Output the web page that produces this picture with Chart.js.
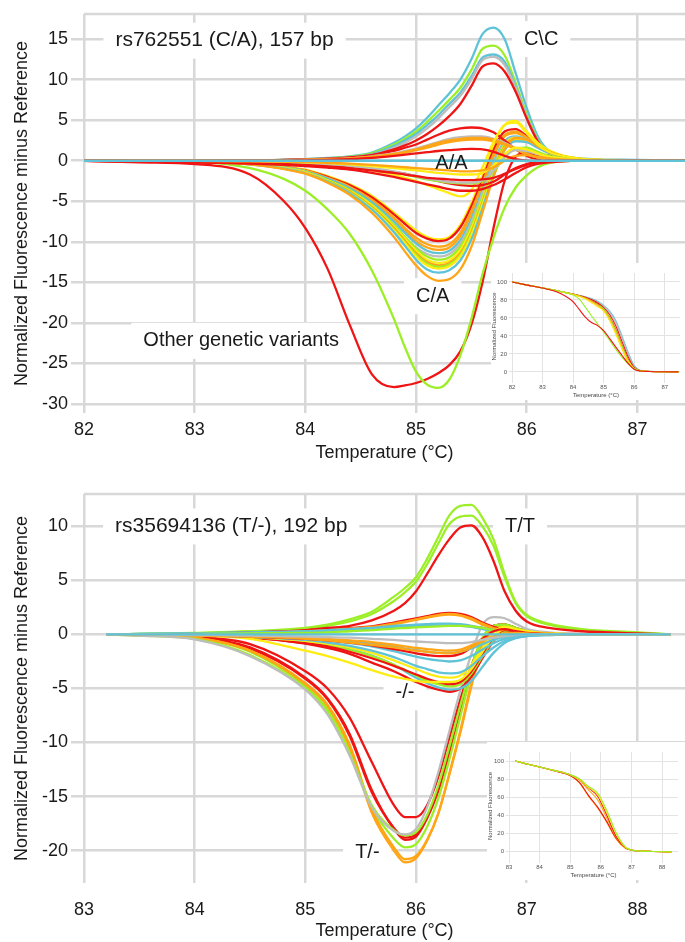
<!DOCTYPE html>
<html>
<head>
<meta charset="utf-8">
<title>HRM difference plots</title>
<script src="https://cdn.jsdelivr.net/npm/chart.js@4.4.1/dist/chart.umd.min.js"></script>
<style>
  body { margin: 0; background: #fff; }
  .panel { position: absolute; left: 0; width: 685px; height: 470px; }
  .inset { position: absolute; background: #fff; }
</style>
</head>
<body>
<div class="panel" style="top:0"><canvas id="diffTop" width="685" height="470"></canvas></div>
<div class="panel" style="top:472px"><canvas id="diffBottom" width="685" height="470"></canvas></div>
<div class="inset" style="left:491px;top:263px;width:194px;height:137px"><canvas id="meltTop" width="194" height="137"></canvas></div>
<div class="inset" style="left:487px;top:742px;width:198px;height:138px"><canvas id="meltBottom" width="198" height="138"></canvas></div>
<script>
// ---------- colours ----------
const CYAN = '#5fc3d7', GREEN = '#9cef26', RED = '#ef1515', GRAY = '#bdbdbd', ORANGE = '#ffa516', YELLOW = '#ffec12';
const GRID = '#d8d8d8';

// ---------- top panel: rs762551 (C/A) ----------
const tempTop = [82.0, 82.5, 83.0, 83.5, 83.8, 84.0, 84.2, 84.4, 84.6, 84.8, 84.9, 85.0, 85.1, 85.2, 85.3, 85.4, 85.5, 85.6, 85.7, 85.8, 85.9, 86.0, 86.1, 86.2, 86.4, 86.6, 87.0, 87.45];
const xTicksTop = [82, 83, 84, 85, 86, 87];
const yTicksTop = [15, 10, 5, 0, -5, -10, -15, -20, -25, -30];

// C\C homozygotes
const ccCyan1 = [0,0,0,0.05,0.1, 0.2,0.35,0.55,1.0,2.2, 3.0,4.0,5.3,6.8,8.3, 10.0,12.5,15.6,16.4,15.0, 10.8,6.5,3.0,1.2,0.4, 0.2,0.1,0];
const ccGreen = [0,0,0,0.05,0.1, 0.2,0.3,0.5,0.9,2.0, 2.7,3.6,4.8,6.1,7.5, 9.0,11.2,13.8,14.2,13.0, 9.6,5.7,2.6,1.0,0.3, 0.1,0.05,0];
const ccCyan2 = [0,0,0,0.05,0.1, 0.2,0.3,0.45,0.8,1.8, 2.5,3.3,4.4,5.6,7.0, 8.4,10.4,12.7,13.1,12.2, 9.2,5.4,2.5,1.0,0.3, 0.1,0.05,0];
const ccGray = [0,0,0,0.05,0.1, 0.15,0.25,0.4,0.7,1.6, 2.2,3.0,4.0,5.2,6.6, 8.0,10.0,12.4,12.8,11.8, 9.0,5.3,2.4,0.9,0.3, 0.1,0,0];
const ccRed = [0,0,0,0,0.05, 0.1,0.2,0.35,0.7,1.4, 1.9,2.5,3.3,4.3,5.5, 7.0,9.2,11.6,12.0,11.0, 8.5,5.2,2.4,0.9,0.2, 0.1,0,0];

// A/A homozygotes (around zero)
const aaRed1 = [0,0,0,0,0.1, 0.15,0.25,0.4,0.7,1.2, 1.6,2.0,2.6,3.2,3.7, 4.0,4.1,4.0,3.5,2.5, 1.4,0.6,0.2,0.1,0, 0,0,0];
const aaGray1 = [0,0,0,0,0.05, 0.1,0.2,0.3,0.55,0.9, 1.2,1.5,1.9,2.3,2.7, 2.9,3.0,3.0,2.7,2.2, 1.5,0.8,0.4,0.2,0.05, 0,0,0];
const aaOrange1 = [0,0,0,0,0.05, 0.1,0.2,0.3,0.5,0.85, 1.1,1.4,1.8,2.2,2.5, 2.7,2.8,2.8,2.6,2.1, 1.5,0.9,0.4,0.2,0.05, 0,0,0];
const aaOrange2 = [0,0,0,0,0.05, 0.1,0.15,0.25,0.45,0.75, 1.0,1.3,1.6,2.0,2.3, 2.5,2.6,2.6,2.4,2.0, 1.4,0.8,0.4,0.2,0, 0,0,0];
const aaRed2 = [0,0,0,0,0, 0.05,0.1,0.2,0.35,0.6, 0.75,0.9,1.05,1.2,1.3, 1.4,1.45,1.4,1.1,0.6, 0.2,0,-0.1,0,0, 0,0,0];
const refTop = [0,0,0,0,0, 0,0,0,0,0, 0,0,0,0,0, 0,0,0,0,0, 0,0,0,0,0, 0,0,0];
const aaOrange3 = [0,0,0,-0.05,-0.1, -0.15,-0.25,-0.35,-0.5,-0.7, -0.8,-0.9,-1.0,-1.1,-1.2, -1.3,-1.3,-1.2,-0.8,0, 0.6,0.7,0.5,0.3,0.1, 0,0,0];
const aaYellow1 = [0,0,0,-0.05,-0.1, -0.2,-0.3,-0.45,-0.65,-0.9, -1.05,-1.2,-1.35,-1.5,-1.6, -1.7,-1.7,-1.5,-0.6,0.8, 1.6,1.4,0.9,0.5,0.2, 0.1,0,0];
const aaRed3 = [0,-0.1,-0.2,-0.3,-0.4, -0.5,-0.7,-0.9,-1.2,-1.5, -1.7,-1.9,-2.1,-2.2,-2.3, -2.4,-2.4,-2.3,-2.1,-1.6, -1.0,-0.5,-0.2,-0.1,0, 0,0,0];
const aaGray2 = [0,0,0,-0.1,-0.2, -0.3,-0.45,-0.65,-0.9,-1.3, -1.6,-1.9,-2.2,-2.4,-2.6, -2.7,-2.7,-2.4,-1.2,0.5, 1.3,1.2,0.8,0.4,0.1, 0,0,0];
const aaGreen = [0,0,0,-0.1,-0.2, -0.3,-0.45,-0.7,-1.0,-1.4, -1.7,-2.0,-2.3,-2.5,-2.7, -2.8,-2.8,-2.5,-1.3,0.4, 1.5,1.6,1.1,0.6,0.2, 0.05,0,0];
const aaRed4 = [0,-0.1,-0.2,-0.35,-0.5, -0.65,-0.85,-1.1,-1.5,-2.0, -2.3,-2.6,-2.9,-3.2,-3.5, -3.7,-3.7,-3.5,-3.0,-2.3, -1.5,-0.8,-0.4,-0.2,0, 0,0,0];
const aaRed5 = [0,-0.05,-0.1,-0.2,-0.3, -0.4,-0.55,-0.75,-1.0,-1.4, -1.6,-1.9,-2.2,-2.5,-2.8, -3.0,-3.1,-3.0,-2.6,-1.7, -0.9,-0.4,-0.1,0,0, 0,0,0];
const aaYellow2 = [0,0,0,-0.1,-0.2, -0.3,-0.5,-0.8,-1.2,-1.7, -2.1,-2.5,-3.0,-3.5,-4.0, -4.4,-3.6,-0.8,2.3,4.4, 4.7,3.4,2.0,1.1,0.4, 0.1,0,0];

// C/A heterozygotes
const caYellow1 = [0,0,-0.05,-0.3,-0.7, -1.1,-1.9,-2.9,-4.3,-6.4, -7.5,-8.6,-9.4,-9.7,-9.4, -7.9,-5.2,-1.8,1.9,4.4, 4.9,3.6,2.2,1.3,0.4, 0.15,0.05,0];
const caRed1 = [0,-0.05,-0.1,-0.35,-0.75, -1.2,-2.0,-3.0,-4.5,-6.6, -7.8,-8.9,-9.6,-9.9,-9.6, -8.2,-5.6,-2.3,1.3,3.6, 3.9,3.0,1.9,1.1,0.35, 0.1,0,0];
const caOrange1 = [0,0,-0.05,-0.35,-0.75, -1.2,-2.1,-3.2,-4.8,-7.0, -8.3,-9.5,-10.3,-10.6,-10.3, -8.9,-6.2,-2.8,0.8,3.2, 3.6,2.9,1.9,1.1,0.35, 0.1,0,0];
const caOrange2 = [0,0,-0.05,-0.35,-0.8, -1.3,-2.2,-3.3,-5.0,-7.3, -8.6,-9.9,-10.7,-11.0,-10.7, -9.3,-6.6,-3.1,0.5,3.0, 3.4,2.8,1.8,1.0,0.3, 0.1,0,0];
const caCyan1 = [0,0,-0.05,-0.35,-0.8, -1.3,-2.2,-3.4,-5.1,-7.5, -8.9,-10.2,-11.1,-11.4,-11.1, -9.8,-7.2,-3.7,-0.2,2.4, 3.0,2.6,1.7,1.0,0.3, 0.1,0,0];
const caGray = [0,-0.05,-0.1,-0.45,-0.95, -1.5,-2.5,-3.8,-5.6,-8.0, -9.4,-10.7,-11.5,-11.8,-11.5, -10.2,-7.6,-4.0,-0.4,2.2, 2.9,2.5,1.7,1.0,0.3, 0.1,0,0];
const caGreen1 = [0,0,-0.05,-0.4,-0.85, -1.4,-2.4,-3.6,-5.4,-7.9, -9.4,-10.8,-11.8,-12.2,-11.9, -10.6,-8.0,-4.5,-0.8,2.0, 2.8,2.5,1.7,1.0,0.3, 0.1,0,0];
const caYellow2 = [0,0,-0.05,-0.4,-0.85, -1.4,-2.4,-3.7,-5.5,-8.1, -9.6,-11.1,-12.2,-12.6,-12.3, -11.0,-8.4,-4.8,-1.0,1.9, 2.8,2.5,1.7,1.0,0.3, 0.1,0,0];
const caOrange3 = [0,0,-0.05,-0.4,-0.9, -1.45,-2.5,-3.8,-5.7,-8.3, -9.9,-11.4,-12.5,-12.9,-12.6, -11.4,-8.8,-5.1,-1.2,1.8, 2.7,2.5,1.7,1.0,0.3, 0.1,0,0];
const caGreen2 = [0,0,-0.05,-0.4,-0.9, -1.5,-2.5,-3.9,-5.8,-8.5, -10.1,-11.6,-12.7,-13.1,-12.8, -11.6,-9.0,-5.3,-1.4,1.6, 2.5,2.4,1.7,1.0,0.3, 0.1,0,0];
const caYellow3 = [0,0,-0.05,-0.4,-0.9, -1.5,-2.6,-4.0,-5.9,-8.6, -10.2,-11.8,-12.9,-13.3,-13.0, -11.8,-9.2,-5.5,-1.5,1.5, 2.6,2.4,1.7,1.0,0.3, 0.1,0,0];
const caCyan2 = [0,0,-0.05,-0.45,-0.95, -1.55,-2.6,-4.0,-6.0,-8.8, -10.5,-12.2,-13.4,-13.8,-13.5, -12.3,-9.7,-5.9,-1.8,1.3, 2.4,2.3,1.6,1.0,0.3, 0.1,0,0];
const caOrange4 = [0,-0.05,-0.1,-0.45,-1.0, -1.6,-2.7,-4.2,-6.4,-9.4, -11.2,-12.9,-14.2,-14.8,-14.6, -13.4,-10.6,-6.4,-2.0,1.4, 2.8,2.6,1.8,1.1,0.35, 0.1,0,0];

// other genetic variants
const otherRed = [0,-0.2,-0.4,-1.7,-4.9, -8.3,-13.3,-20.2,-26.3,-27.9, -27.7,-27.4,-26.9,-26.2,-25.2, -23.5,-20.2,-15.0,-8.3,-2.5, 0.5,1.0,0.6,0.3,0.1, 0,0,0];
const otherGreen = [0,0,-0.1,-0.9,-2.2, -3.7,-6.0,-9.0,-13.5,-19.5, -23.0,-26.0,-27.6,-28.0,-27.0, -24.0,-19.5,-14.0,-9.5,-5.8, -3.3,-1.8,-0.8,-0.3,0, 0,0,0];

const curvesTop = [
    [refTop, CYAN], [aaRed2, RED], [aaOrange3, ORANGE], [aaYellow1, YELLOW], [aaRed3, RED],
    [aaGray2, GRAY], [aaGreen, GREEN], [aaRed5, RED], [aaRed4, RED], [aaYellow2, YELLOW],
    [aaOrange2, ORANGE], [aaOrange1, ORANGE], [aaGray1, GRAY], [aaRed1, RED],
    [caOrange4, ORANGE], [caCyan2, CYAN], [caYellow3, YELLOW], [caGreen2, GREEN], [caOrange3, ORANGE],
    [caYellow2, YELLOW], [caGreen1, GREEN], [caGray, GRAY], [caCyan1, CYAN], [caOrange2, ORANGE],
    [caOrange1, ORANGE], [caRed1, RED], [caYellow1, YELLOW],
    [ccRed, RED], [ccGray, GRAY], [ccCyan2, CYAN], [ccGreen, GREEN], [ccCyan1, CYAN],
    [otherGreen, GREEN], [otherRed, RED]
];

// ---------- bottom panel: rs35694136 (T/-) ----------
const tempBottom = [83.2, 83.5, 84.0, 84.5, 85.0, 85.2, 85.4, 85.6, 85.8, 85.9, 86.0, 86.1, 86.2, 86.3, 86.4, 86.5, 86.6, 86.7, 86.8, 86.9, 87.0, 87.2, 87.5, 88.0, 88.3];
const xTicksBottom = [83, 84, 85, 86, 87, 88];
const yTicksBottom = [10, 5, 0, -5, -10, -15, -20];

// T/T homozygotes
const ttGreen1 = [0,0.05,0.15,0.3,0.6, 0.9,1.4,2.1,3.5,4.3, 5.3,7.0,9.0,11.0,11.9, 12.0,10.8,8.8,5.6,3.0, 1.8,1.0,0.5,0.2,0];
const ttGreen2 = [0,0.05,0.1,0.25,0.5, 0.8,1.2,1.9,3.1,3.9, 4.9,6.5,8.4,10.2,10.9, 11.0,10.0,8.2,5.3,2.9, 1.7,0.9,0.4,0.15,0];
const ttRed = [0,0,0.05,0.2,0.4, 0.6,0.8,1.3,2.2,2.9, 4.0,5.6,7.3,8.8,9.9, 10.1,9.0,6.8,4.0,2.2, 1.2,0.6,0.3,0.1,0];

// -/- homozygotes (around zero)
const bumpRed = [0,0,0.05,0.15,0.3, 0.45,0.6,0.75,1.1,1.3, 1.5,1.7,1.9,2.0,1.9, 1.6,1.1,0.7,0.4,0.2, 0.1,0.05,0,0,0];
const bumpOrange1 = [0,0,0.05,0.15,0.3, 0.4,0.55,0.7,1.0,1.2, 1.4,1.6,1.8,1.9,1.8, 1.5,1.0,0.6,0.35,0.2, 0.1,0.05,0,0,0];
const bumpOrange2 = [0,0,0.05,0.1,0.25, 0.35,0.5,0.65,0.95,1.15, 1.35,1.55,1.75,1.85,1.75, 1.4,0.9,0.5,0.3,0.15, 0.1,0,0,0,0];
const bumpCyan1 = [0,0.05,0.1,0.2,0.3, 0.4,0.5,0.6,0.8,0.85, 0.9,0.95,1.0,1.0,0.95, 0.8,0.6,0.4,0.25,0.15, 0.1,0.05,0,0,0];
const bumpCyan2 = [0,0.05,0.1,0.15,0.25, 0.3,0.4,0.5,0.65,0.7, 0.75,0.8,0.85,0.85,0.8, 0.7,0.5,0.35,0.2,0.1, 0.05,0,0,0,0];
const bumpGreen = [0,0,0.05,0.1,0.15, 0.2,0.3,0.4,0.55,0.6, 0.65,0.7,0.75,0.8,0.8, 0.75,0.6,0.4,0.25,0.15, 0.1,0.05,0,0,0];
const refBottom = [0,0,0,0,0, 0,0,0,0,0, 0,0,0,0,0, 0,0,0,0,0, 0,0,0,0,0];
const dipGray = [0,0,-0.05,-0.1,-0.2, -0.25,-0.3,-0.4,-0.5,-0.6, -0.65,-0.7,-0.75,-0.8,-0.8, -0.7,-0.5,-0.3,-0.15,-0.05, 0,0,0,0,0];
const dipOrange1 = [0,0,-0.05,-0.15,-0.3, -0.4,-0.55,-0.7,-0.95,-1.1, -1.25,-1.35,-1.45,-1.5,-1.4, -1.0,-0.5,-0.2,0,0.1, 0.05,0,0,0,0];
const dipOrange2 = [0,0,-0.1,-0.2,-0.4, -0.55,-0.75,-0.95,-1.2,-1.35, -1.5,-1.6,-1.7,-1.75,-1.6, -1.2,-0.6,-0.2,0.1,0.15, 0.1,0,0,0,0];
const dipCyan1 = [0,0,-0.05,-0.15,-0.3, -0.45,-0.6,-0.8,-1.1,-1.3, -1.45,-1.6,-1.7,-1.7,-1.6, -1.3,-0.9,-0.5,-0.25,-0.1, -0.05,0,0,0,0];
const dipRed1 = [0,0,-0.05,-0.2,-0.4, -0.55,-0.75,-1.0,-1.35,-1.55, -1.75,-1.9,-2.0,-2.0,-1.8, -1.2,-0.4,0.3,0.5,0.3, 0.15,0.05,0,0,0];
const dipCyan2 = [0,0,-0.05,-0.2,-0.45, -0.6,-0.8,-1.1,-1.55,-1.8, -2.05,-2.25,-2.4,-2.5,-2.4, -2.0,-1.4,-0.8,-0.4,-0.2, -0.1,0,0,0,0];
const dipCyan3 = [0,0,-0.05,-0.2,-0.5, -0.75,-1.05,-1.5,-2.1,-2.5, -2.9,-3.2,-3.5,-3.6,-3.5, -2.9,-2.0,-1.2,-0.6,-0.3, -0.15,-0.05,0,0,0];
const dipYellow1 = [0,0,-0.05,-0.25,-0.6, -0.85,-1.2,-1.7,-2.4,-2.8, -3.2,-3.6,-3.9,-4.0,-3.8, -2.8,-1.3,0.2,0.7,0.5, 0.3,0.1,0,0,0];
const dipYellow2 = [0,0,-0.1,-0.4,-1.5, -2.0,-2.6,-3.3,-3.9,-4.1, -4.3,-4.4,-4.4,-4.4,-4.2, -3.2,-1.6,-0.2,0.5,0.4, 0.2,0.1,0,0,0];
const dipRed2 = [0,0,-0.05,-0.3,-0.8, -1.1,-1.6,-2.2,-2.9,-3.3, -3.7,-4.1,-4.4,-4.6,-4.4, -3.4,-1.8,-0.3,0.4,0.3, 0.15,0.05,0,0,0];
const dipGreen = [0,0,-0.05,-0.25,-0.7, -1.0,-1.4,-2.0,-2.8,-3.3, -3.8,-4.3,-4.6,-4.8,-4.6, -3.6,-2.0,-0.5,0.3,0.3, 0.15,0.05,0,0,0];
const dipCyan4 = [0,0,-0.05,-0.25,-0.65, -0.95,-1.35,-1.95,-2.8,-3.4, -4.0,-4.5,-4.9,-5.1,-5.0, -4.3,-3.0,-1.7,-0.8,-0.35, -0.15,-0.05,0,0,0];
const dipRed3 = [0,0,-0.05,-0.25,-0.85, -1.25,-1.8,-2.6,-3.4,-3.9, -4.4,-4.8,-5.1,-5.3,-5.0, -3.9,-2.2,-0.6,0.3,0.3, 0.15,0.05,0,0,0];

// T/- heterozygotes
const tmOrange1 = [0,-0.05,-0.3,-1.5,-4.6, -6.6,-10.4,-16.5,-20.0,-21.1, -20.7,-19.1,-16.6,-12.9,-8.9, -4.5,-1.0,0.6,0.8,0.5, 0.3,0.1,0,0,0];
const tmOrange2 = [0,-0.05,-0.3,-1.5,-4.5, -6.5,-10.2,-16.2,-19.7,-20.8, -20.5,-19.0,-16.6,-13.0,-9.1, -4.8,-1.3,0.5,0.8,0.5, 0.3,0.1,0,0,0];
const tmGreen1 = [0,-0.05,-0.35,-1.6,-4.8, -6.9,-10.6,-16.0,-18.9,-19.7, -19.4,-17.8,-15.2,-11.6,-7.6, -3.6,-0.6,0.8,0.9,0.6, 0.3,0.1,0,0,0];
const tmRed1 = [0,-0.05,-0.25,-1.2,-4.0, -5.9,-9.2,-14.4,-18.0,-19.0, -18.7,-17.0,-14.5,-11.0,-7.3, -3.5,-0.6,0.8,0.9,0.6, 0.3,0.1,0,0,0];
const tmRed2 = [0,-0.05,-0.25,-1.3,-4.1, -6.0,-9.4,-14.6,-17.9,-18.8, -18.5,-16.9,-14.3,-10.8,-7.1, -3.3,-0.5,0.8,0.9,0.6, 0.3,0.1,0,0,0];
const tmGray = [0,-0.1,-0.45,-2.0,-5.1, -7.4,-11.2,-16.0,-18.2,-18.5, -18.0,-16.0,-12.8,-9.0,-5.2, -1.8,0.9,1.6,1.5,1.0, 0.5,0.2,0.05,0,0];
const tmGreen2 = [0,-0.1,-0.4,-1.9,-5.0, -7.2,-11.0,-15.8,-18.1,-18.6, -18.3,-16.7,-14.0,-10.4,-6.6, -3.0,-0.3,0.8,0.9,0.6, 0.3,0.1,0,0,0];
const tmRed3 = [0,0,-0.2,-0.9,-3.4, -5.0,-7.7,-11.8,-15.8,-16.9, -16.9,-15.8,-13.2,-9.6,-6.0, -2.9,-0.4,0.8,0.9,0.6, 0.3,0.1,0.05,0,0];

const curvesBottom = [
    [refBottom, CYAN], [dipGray, GRAY], [dipOrange1, ORANGE], [dipOrange2, ORANGE], [dipCyan1, CYAN],
    [dipRed1, RED], [dipCyan2, CYAN], [dipCyan3, CYAN], [dipYellow2, YELLOW], [dipYellow1, YELLOW],
    [dipRed2, RED], [dipGreen, GREEN], [dipCyan4, CYAN], [dipRed3, RED],
    [bumpGreen, GREEN], [bumpCyan2, CYAN], [bumpCyan1, CYAN], [bumpOrange2, ORANGE], [bumpOrange1, ORANGE], [bumpRed, RED],
    [tmGray, GRAY], [tmGreen2, GREEN], [tmOrange1, ORANGE], [tmOrange2, ORANGE], [tmGreen1, GREEN],
    [tmRed2, RED], [tmRed1, RED], [tmRed3, RED],
    [ttRed, RED], [ttGreen2, GREEN], [ttGreen1, GREEN]
];

// ---------- insets: normalized melt curves ----------
const meltTempTop = [82.0, 82.5, 83.0, 83.5, 84.0, 84.2, 84.4, 84.6, 84.8, 85.0, 85.2, 85.4, 85.6, 85.8, 86.0, 86.2, 86.5, 87.0, 87.45];
const meltCyan = [100,96.5,93.3,90,86.5,85,83.5,81.5,78.5,74,67.5,57,40,22,7,1.8,0.7,0.2,0];
const meltGray = [100,96.5,93.3,90,86.5,85,83.3,81,78,73,66,55,38,20,6,1.5,0.6,0.2,0];
const meltRedA = [100,96.5,93.3,90,86.5,84.8,83,80.5,77,71.5,63.5,51,34,17,5,1.3,0.5,0.2,0];
const meltRedB = [100,96.5,93.3,90,86.3,84.5,82.5,79.5,75.5,69.5,60.5,47,30,14,4,1.2,0.5,0.2,0];
const meltGreenA = [100,96.5,93.3,90,86.3,84.5,82.3,79,75,70,60,46,29,13,4,1.2,0.5,0.2,0];
const meltOrangeA = [100,96.5,93.3,90,86.3,84.3,82,78.5,74,68,57.5,43,26,11,3.3,1,0.5,0.2,0];
const meltYellowA = [100,96.5,93.3,90,86,83.8,81,77,72.5,68,57,42,26,12,4,1.2,0.5,0.2,0];
const meltGreenOut = [100,96.5,93.3,90,85.5,81,72,62.5,53.5,44.5,35,25,16.5,9,3.5,1,0.4,0.1,0];
const meltRedOut = [100,96.5,93.3,88.5,78,69.5,61,55,51.5,46,37,27.5,18.5,9.5,3,1,0.4,0.1,0];
const meltCurvesTop = [
    [meltRedOut, RED], [meltGreenOut, GREEN], [meltYellowA, YELLOW], [meltOrangeA, ORANGE],
    [meltGreenA, GREEN], [meltRedB, RED], [meltRedA, RED], [meltGray, GRAY], [meltCyan, CYAN]
];

const meltTempBottom = [83.2, 83.5, 84.0, 84.5, 85.0, 85.3, 85.6, 85.9, 86.2, 86.5, 86.8, 87.0, 87.3, 87.7, 88.3];
const meltOrangeB = [100,97.5,93.4,89,84,76,61,48,32,14,4,2,0.8,0.4,0];
const meltRedC = [100,97.5,93.4,89,84,76.5,62,49,33,15,4.5,2,0.8,0.4,0];
const meltOrangeC = [100,97.5,93.4,89.5,84.8,79,68,57,37,16,4.5,1.8,0.8,0.4,0];
const meltRedD = [100,97.5,93.4,89.5,85,80,70.5,61,40,17,4.5,1.8,0.8,0.4,0];
const meltYellowB = [100,97.5,93.4,89.5,85,80,71,63,43,20,5,2,0.8,0.4,0];
const meltGreenB = [100,97.5,93.4,89.5,85,80.5,72,64.5,45,21,5.5,2,0.8,0.4,0];
const meltCurvesBottom = [
    [meltGreenB, GREEN], [meltYellowB, YELLOW], [meltRedD, RED], [meltOrangeC, ORANGE], [meltRedC, RED], [meltOrangeB, ORANGE]
];

// ---------- annotations (data units) ----------
const labelsTop = [
    { text: 'rs762551 (C/A), 157 bp', x: 83.27, y: 14.8, size: 21, box: true },
    { text: 'C\\C', x: 86.13, y: 15.0, size: 20, box: true },
    { text: 'A/A', x: 85.32, y: -0.4, size: 20, box: false },
    { text: 'C/A', x: 85.15, y: -16.7, size: 20, box: true },
    { text: 'Other genetic variants', x: 83.42, y: -22.2, size: 20, box: true }
];
const labelsBottom = [
    { text: 'rs35694136 (T/-), 192 bp', x: 84.33, y: 10.0, size: 21, box: true },
    { text: 'T/T', x: 86.94, y: 10.0, size: 20, box: true },
    { text: '-/-', x: 85.9, y: -5.35, size: 20, box: true },
    { text: 'T/-', x: 85.56, y: -20.2, size: 20, box: true }
];

Chart.defaults.font.family = '"Liberation Sans", Arial, sans-serif';
Chart.defaults.color = '#1a1a1a';

// white label boxes go under the curves, text goes on top; also the top frame line
const annotationPlugin = {
    id: 'labelBoxes',
    beforeDatasetsDraw(chart, args, opts) {
        const { ctx, chartArea, scales: { x, y } } = chart;
        ctx.save();
        ctx.strokeStyle = GRID;
        ctx.lineWidth = 2.5;
        ctx.beginPath();
        ctx.moveTo(chartArea.left, chartArea.top);
        ctx.lineTo(chartArea.right, chartArea.top);
        ctx.stroke();
        ctx.fillStyle = '#fff';
        opts.items.forEach(item => {
            if (!item.box) return;
            ctx.font = item.size + 'px "Liberation Sans", Arial, sans-serif';
            const w = ctx.measureText(item.text).width;
            const px = x.getPixelForValue(item.x);
            const py = y.getPixelForValue(item.y);
            ctx.fillRect(px - w / 2 - 12, py - 18, w + 24, 36);
        });
        ctx.restore();
    },
    afterDatasetsDraw(chart, args, opts) {
        const { ctx, scales: { x, y } } = chart;
        ctx.save();
        ctx.textAlign = 'center';
        ctx.textBaseline = 'middle';
        ctx.fillStyle = '#1a1a1a';
        opts.items.forEach(item => {
            ctx.font = item.size + 'px "Liberation Sans", Arial, sans-serif';
            ctx.fillText(item.text, x.getPixelForValue(item.x), y.getPixelForValue(item.y));
        });
        ctx.restore();
    }
};

function lineSets(temps, curves, width) {
    return curves.map(([vals, color]) => ({
        data: temps.map((t, i) => ({ x: t, y: vals[i] })),
        borderColor: color,
        borderWidth: width,
        pointRadius: 0,
        fill: false,
        cubicInterpolationMode: 'monotone'
    }));
}

function diffChart(id, temps, curves, cfg) {
    return new Chart(document.getElementById(id), {
        type: 'line',
        data: { datasets: lineSets(temps, curves, 2.3) },
        plugins: [annotationPlugin],
        options: {
            responsive: false,
            animation: false,
            layout: { padding: { top: cfg.padTop, right: 0, bottom: 0, left: 0 } },
            plugins: {
                legend: { display: false },
                tooltip: { enabled: false },
                labelBoxes: { items: cfg.labels }
            },
            scales: {
                x: {
                    type: 'linear',
                    min: cfg.xMin,
                    max: cfg.xMax,
                    afterBuildTicks: axis => { axis.ticks = cfg.xTicks.map(v => ({ value: v })); },
                    afterFit: axis => { axis.height = cfg.xHeight; },
                    grid: { color: GRID, lineWidth: 2.5, drawTicks: false },
                    border: { display: false },
                    ticks: { font: { size: 18 }, padding: cfg.xTickPad, maxRotation: 0 },
                    title: { display: true, text: 'Temperature (°C)', font: { size: 18 }, padding: { top: 0, bottom: cfg.xTitlePad } }
                },
                y: {
                    type: 'linear',
                    min: cfg.yMin,
                    max: cfg.yMax,
                    afterBuildTicks: axis => { axis.ticks = cfg.yTicks.map(v => ({ value: v })); },
                    afterFit: axis => { axis.width = 84; },
                    grid: { color: GRID, lineWidth: 2.5, tickLength: 13, tickColor: GRID },
                    border: { display: false },
                    ticks: { font: { size: 18 }, padding: 3 },
                    title: { display: true, text: 'Normalized Fluorescence minus Reference', font: { size: 18 }, padding: { top: 11, bottom: 0 } }
                }
            }
        }
    });
}

function meltChart(id, temps, curves, cfg) {
    return new Chart(document.getElementById(id), {
        type: 'line',
        data: { datasets: lineSets(temps, curves, 1.1) },
        options: {
            responsive: false,
            animation: false,
            layout: { padding: { top: 10, right: cfg.padRight, bottom: 0, left: 0 } },
            plugins: { legend: { display: false }, tooltip: { enabled: false } },
            scales: {
                x: {
                    type: 'linear',
                    min: cfg.xMin,
                    max: cfg.xMax,
                    afterBuildTicks: axis => { axis.ticks = cfg.xTicks.map(v => ({ value: v })); },
                    afterFit: axis => { axis.height = 20; },
                    grid: { color: '#e3e3e3', lineWidth: 1, tickLength: 3 },
                    border: { display: false },
                    ticks: { font: { size: 6 }, padding: 1, color: '#555', maxRotation: 0 },
                    title: { display: true, text: 'Temperature (°C)', font: { size: 6 }, color: '#444', padding: { top: 0, bottom: 1 } }
                },
                y: {
                    type: 'linear',
                    min: -9,
                    max: 110,
                    afterBuildTicks: axis => { axis.ticks = [0, 20, 40, 60, 80, 100].map(v => ({ value: v })); },
                    afterFit: axis => { axis.width = cfg.yWidth; },
                    grid: { color: '#e3e3e3', lineWidth: 1, tickLength: 3 },
                    border: { display: false },
                    ticks: { font: { size: 6 }, padding: 2, color: '#555' },
                    title: { display: true, text: 'Normalized Fluorescence', font: { size: 6 }, color: '#444', padding: { top: 0, bottom: 0 } }
                }
            }
        }
    });
}

diffChart('diffTop', tempTop, curvesTop, {
    xMin: 82, xMax: 87.43, yMin: -31.1, yMax: 18.09, xTicks: xTicksTop, yTicks: yTicksTop,
    padTop: 14, xHeight: 57, xTickPad: 6, xTitlePad: 6, labels: labelsTop
});
diffChart('diffBottom', tempBottom, curvesBottom, {
    xMin: 83, xMax: 88.43, yMin: -23, yMax: 13, xTicks: xTicksBottom, yTicks: yTicksBottom,
    padTop: 22, xHeight: 59, xTickPad: 16, xTitlePad: 0, labels: labelsBottom
});
meltChart('meltTop', meltTempTop, meltCurvesTop, {
    xMin: 82, xMax: 87.5, xTicks: [82, 83, 84, 85, 86, 87], padRight: 5, yWidth: 21
});
meltChart('meltBottom', meltTempBottom, meltCurvesBottom, {
    xMin: 83, xMax: 88.52, xTicks: [83, 84, 85, 86, 87, 88], padRight: 7, yWidth: 22
});
</script>
</body>
</html>
